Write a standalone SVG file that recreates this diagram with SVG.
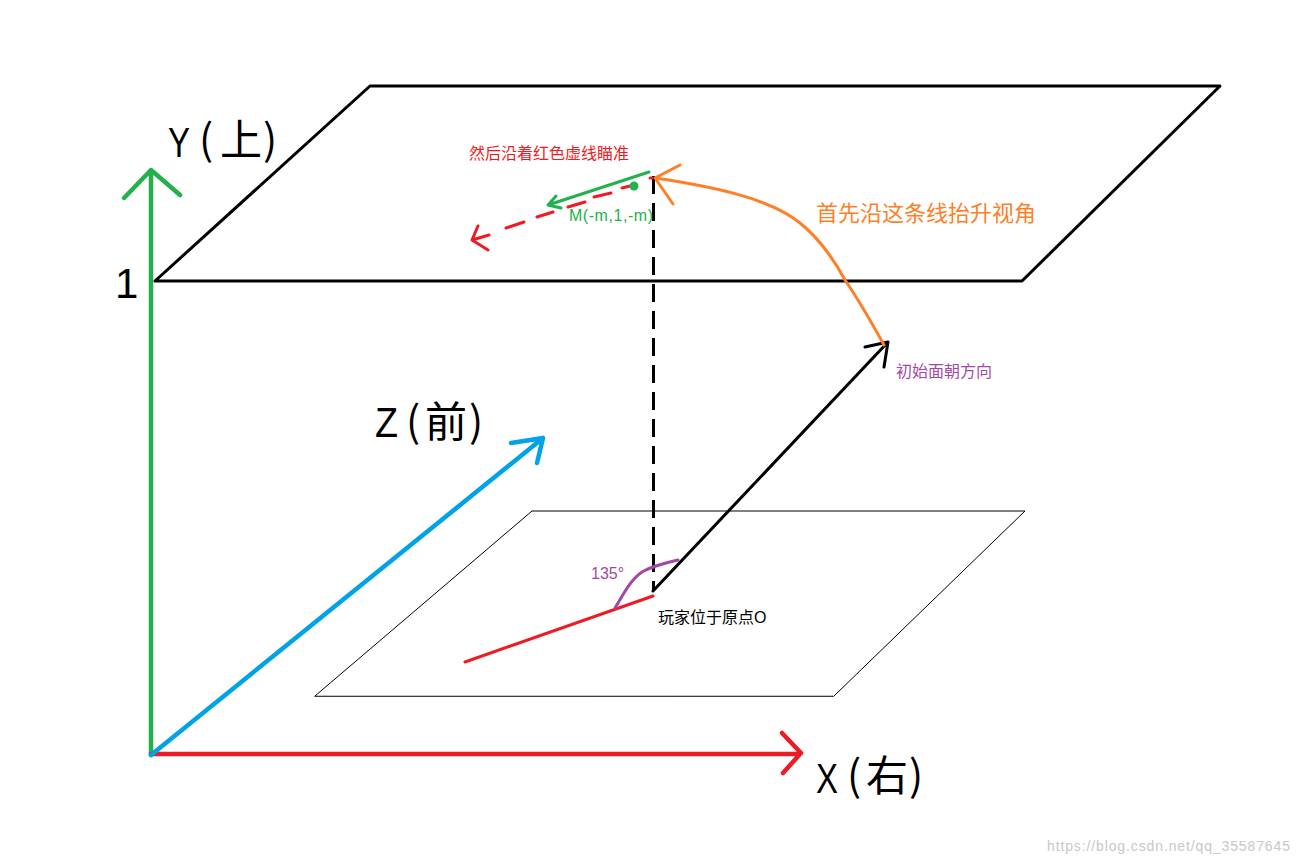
<svg xmlns="http://www.w3.org/2000/svg" width="1299" height="862" viewBox="0 0 1299 862">
<style>
.l{fill:none;stroke-linecap:round;stroke-linejoin:round}
.k3{stroke:#000;stroke-width:3}
.k1{stroke:#000;stroke-width:1}
.r{stroke:#ed1c24;stroke-width:3}
.g{stroke:#22b14c;stroke-width:3}
.o{stroke:#ff7f27;stroke-width:3}
.p{stroke:#a349a4;stroke-width:3}
.big{font-family:"Liberation Sans","Noto Sans CJK SC",sans-serif;font-size:42px;fill:#000}
.cjk{font-family:"Noto Sans CJK SC",sans-serif;font-size:42px;fill:#000}
.s{font-family:"Liberation Sans","Noto Sans CJK SC",sans-serif;font-size:16px}
</style>
<rect width="1299" height="862" fill="#fff"/>
<g id="connectors">
<g id="plane-top"><path class="l k3" d="M155 281 L370 86 L1220 86 L1022 281 L155 281"/></g>
<g id="plane-bottom"><path class="l k1" d="M315 696 L532 511 L1025 511 L834 696 Z"/></g>
<g id="axis-y"><path class="l" stroke="#22b14c" stroke-width="4.500" d="M151 755 V170 M124 198 L151 170 L180 195"/></g>
<g id="axis-x"><path class="l" stroke="#ed1c24" stroke-width="4.500" d="M151 754 H800 M782 733 L801 753 L783 773"/></g>
<g id="axis-z"><path class="l" stroke="#00a2e8" stroke-width="4.500" d="M151 755 L543 438 M511 443 L543 438 L537 463"/></g>
<g id="dashed-vertical"><path fill="none" stroke="#000" stroke-width="3" stroke-dasharray="18 9" d="M653.500 176 V590"/></g>
<g id="facing-arrow"><path class="l k3" d="M653 591 L888 342 M865 347 L888 342 L884 367"/></g>
<g id="red-ground-line"><path class="l r" d="M465 662 L653 596"/></g>
<g id="angle-arc"><path class="l p" d="M615 608 C622 597 630 580 642 572 C652 566 665 563 678 560"/></g>
<g id="lift-curve"><path class="l o" d="M884 345 Q862 305 845 280 Q825 243 800 223 C770 198 710 186 655 178 M680 165 L655 178 L673 204"/></g>
<g id="aim-line-green"><path class="l g" d="M649 172 L548 205 M556 196 L548 205 L561 208"/></g>
<g id="aim-line-red"><path class="l r" d="M652 178 L650 178 M630 186 L622 188 M611 193 L594 197 M585 202 L568 207 M553 212 L537 217 M524 222 L506 228 M489 235 L472 240 M478 226 L472 240 L488 250"/></g>
</g>
<g id="point-m"><circle cx="634" cy="186" r="4.500" fill="#22b14c"/></g>
<g id="label-y"><text class="big" x="168" y="157" textLength="22" lengthAdjust="spacingAndGlyphs">Y</text><text class="cjk" x="199 220 263" y="155">(上)</text></g>
<g id="label-1"><text class="big" x="115" y="298">1</text></g>
<g id="label-z"><text class="big" x="375" y="437" textLength="23" lengthAdjust="spacingAndGlyphs">Z</text><text class="cjk" x="406 425 469" y="437">(前)</text></g>
<g id="label-x"><text class="big" x="816" y="793" textLength="22" lengthAdjust="spacingAndGlyphs">X</text><text class="cjk" x="847 866 909" y="791">(右)</text></g>
<g id="label-aim"><text class="s" x="469" y="159" fill="#ed1c24">然后沿着红色虚线瞄准</text></g>
<g id="label-m"><text class="s" x="569" y="221" fill="#22b14c" textLength="84">M(-m,1,-m)</text></g>
<g id="label-lift"><text class="s" x="816" y="221" fill="#ff7f27" style="font-size:22px">首先沿这条线抬升视角</text></g>
<g id="label-initial"><text class="s" x="896" y="377" fill="#a349a4">初始面朝方向</text></g>
<g id="label-angle"><text class="s" x="591" y="579" fill="#a349a4">135°</text></g>
<g id="label-origin"><text class="s" x="658" y="623" fill="#000">玩家位于原点O</text></g>
<g id="watermark"><text x="1047" y="851" font-family="'Liberation Sans',sans-serif" font-size="14" fill="#c8c8c8" textLength="243">https://blog.csdn.net/qq_35587645</text></g>
</svg>
